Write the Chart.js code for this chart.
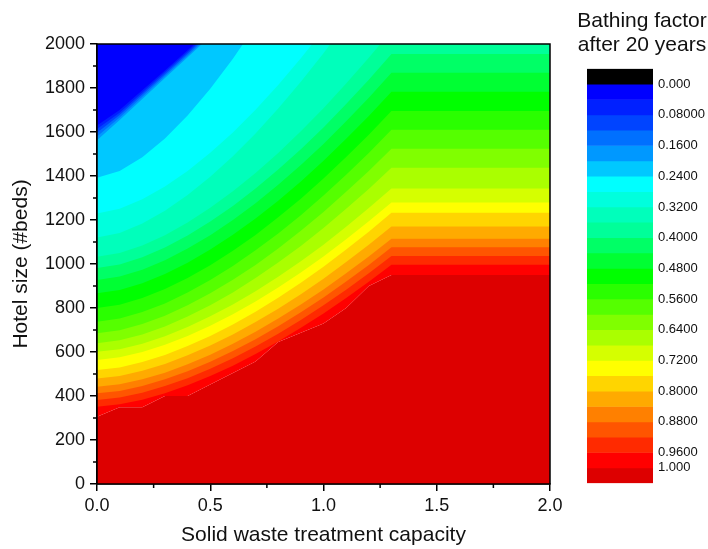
<!DOCTYPE html>
<html lang="en">
<head>
<meta charset="UTF-8">
<title>Bathing factor after 20 years</title>
<script src="https://cdn.jsdelivr.net/npm/chart.js"></script>
<style>
    body { margin: 0; background: #fff; }
    .wrap { position: relative; width: 708px; height: 549px; overflow: hidden; }
    #contour { position: absolute; left: 0; top: 0; }
    #colorbar { position: absolute; left: 580px; top: 56px; }
    .cb-title {
        position: absolute; left: 572px; width: 140px; top: 8px;
        text-align: center; color: #111; line-height: 28px;
        font: 21px "Liberation Sans", Arial, sans-serif;
    }
</style>
</head>
<body>
<div class="wrap">
    <canvas id="contour" width="708" height="549"></canvas>
    <div class="cb-title">Bathing factor<br>after 20 years</div>
    <canvas id="colorbar" width="128" height="440"></canvas>
</div>

<script>
// x positions (solid waste treatment capacity) where each contour boundary is read
const xGrid = [0, 0.1, 0.2, 0.3, 0.4, 0.5, 0.6, 0.7, 0.8, 0.9, 1.0, 1.1, 1.2, 1.3, 2.0];

// hotel size (#beds) of each contour boundary at the xGrid positions
const c004 = [1630, 1700, 1790, 1880, 1972, 2065, 2160, 2255, 2350, 2445, 2540, 2635, 2730, 2825, 2825];
const c008 = [1614, 1688, 1780, 1872, 1964, 2058, 2153, 2248, 2343, 2438, 2533, 2628, 2723, 2818, 2818];
const c012 = [1597, 1677, 1770, 1863, 1956, 2051, 2146, 2241, 2336, 2431, 2526, 2621, 2716, 2811, 2811];
const c016 = [1580, 1666, 1760, 1854, 1948, 2043, 2138, 2233, 2328, 2423, 2518, 2613, 2708, 2803, 2803];
const c020 = [1563, 1655, 1750, 1845, 1940, 2035, 2130, 2225, 2320, 2415, 2510, 2605, 2700, 2795, 2795];
const c024 = [1392, 1423, 1485, 1570, 1675, 1797, 1933, 2084, 2250, 2427, 2617, 2820, 3033, 3257, 3257];
const c028 = [1230, 1251, 1294, 1352, 1423, 1506, 1598, 1701, 1814, 1935, 2064, 2203, 2348, 2500, 2500];
const c032 = [1120, 1141, 1184, 1242, 1314, 1397, 1490, 1593, 1707, 1828, 1958, 2097, 2242, 2395, 2395];
const c036 = [1033, 1050, 1084, 1131, 1189, 1256, 1331, 1414, 1505, 1603, 1708, 1820, 1937, 2060, 2060];
const c040 = [982, 998, 1031, 1075, 1130, 1193, 1264, 1343, 1430, 1522, 1621, 1727, 1838, 1955, 1955];
const c044 = [927, 943, 974, 1017, 1070, 1131, 1200, 1276, 1360, 1450, 1546, 1649, 1756, 1869, 1869];
const c048 = [867, 882, 913, 955, 1006, 1066, 1133, 1207, 1288, 1375, 1469, 1569, 1673, 1783, 1783];
const c052 = [800, 815, 845, 886, 936, 994, 1060, 1132, 1212, 1297, 1389, 1486, 1588, 1696, 1696];
const c056 = [738, 752, 782, 821, 871, 927, 991, 1062, 1139, 1222, 1311, 1406, 1505, 1610, 1610];
const c060 = [685, 699, 727, 765, 813, 867, 928, 996, 1071, 1151, 1236, 1328, 1423, 1524, 1524];
const c064 = [640, 653, 680, 716, 761, 813, 871, 936, 1007, 1082, 1164, 1251, 1341, 1437, 1437];
const c068 = [601, 613, 638, 672, 714, 762, 816, 876, 942, 1013, 1088, 1169, 1254, 1343, 1343];
const c072 = [564, 576, 600, 633, 673, 719, 772, 830, 893, 961, 1034, 1112, 1194, 1280, 1280];
const c076 = [518, 530, 554, 586, 627, 673, 725, 783, 847, 915, 988, 1066, 1147, 1233, 1233];
const c080 = [480, 491, 515, 546, 585, 630, 680, 736, 797, 863, 933, 1009, 1087, 1170, 1170];
const c084 = [442, 453, 476, 506, 544, 588, 637, 692, 752, 816, 884, 958, 1034, 1115, 1115];
const c088 = [412, 423, 445, 476, 513, 556, 605, 658, 717, 781, 848, 921, 996, 1076, 1076];
const c092 = [382, 393, 415, 445, 481, 524, 572, 625, 683, 745, 812, 883, 958, 1036, 1036];
const c096 = [351, 362, 383, 413, 449, 491, 538, 591, 648, 710, 775, 846, 919, 997, 997];
const c100 = [306, 349, 349, 400, 400, 452, 504, 557, 645, 687, 729, 800, 900, 950, 950];

const contourLevels = [0.04, 0.08, 0.12, 0.16, 0.20, 0.24, 0.28, 0.32, 0.36, 0.40, 0.44, 0.48, 0.52,
                       0.56, 0.60, 0.64, 0.68, 0.72, 0.76, 0.80, 0.84, 0.88, 0.92, 0.96, 1.00];
const boundaries = [c004, c008, c012, c016, c020, c024, c028, c032, c036, c040, c044, c048, c052,
                    c056, c060, c064, c068, c072, c076, c080, c084, c088, c092, c096, c100];

// colour of each band, from below 0.000 (black) to above 1.000 (dark red)
const bandEdges = [-0.04, 0, 0.04, 0.08, 0.12, 0.16, 0.20, 0.24, 0.28, 0.32, 0.36, 0.40, 0.44, 0.48,
                   0.52, 0.56, 0.60, 0.64, 0.68, 0.72, 0.76, 0.80, 0.84, 0.88, 0.92, 0.96, 1.00, 1.04];
const bandColors = ['#000000', '#0000FF', '#0020FF', '#0044FF', '#0070FF', '#0098FF', '#00C8FF',
                    '#00FFFF', '#00FFDD', '#00FFBB', '#00FF99', '#00FF66', '#00FF33', '#00FF00',
                    '#2AFF00', '#55FF00', '#80FF00', '#AAFF00', '#D5FF00', '#FFFF00', '#FFD500',
                    '#FFAA00', '#FF8000', '#FF5500', '#FF2A00', '#FF0000', '#DD0000'];

const cbTickValues = [0, 0.08, 0.16, 0.24, 0.32, 0.40, 0.48, 0.56, 0.64, 0.72, 0.80, 0.88, 0.96, 1.00];
const cbTickLabels = ['0.000', '0.08000', '0.1600', '0.2400', '0.3200', '0.4000', '0.4800',
                      '0.5600', '0.6400', '0.7200', '0.8000', '0.8800', '0.9600', '1.000'];

const xMinor = [0.25, 0.75, 1.25, 1.75];
const yMinor = [100, 300, 500, 700, 900, 1100, 1300, 1500, 1700, 1900];

Chart.defaults.font.family = '"Liberation Sans", Arial, sans-serif';
Chart.defaults.color = '#111';

function toPoints(ys) {
    return ys.map((y, i) => ({ x: xGrid[i], y: y }));
}

// each boundary fills everything above it with the band lying above it;
// lower boundaries are drawn first so the upper ones cover them
const contourSets = boundaries.map((ys, k) => ({
    label: contourLevels[k].toFixed(2),
    data: toPoints(ys),
    fill: 'end',
    backgroundColor: bandColors[k + 1],
    borderWidth: 0,
    pointRadius: 0,
    order: k
}));
contourSets.push({
    label: '> 1.00',
    data: toPoints(c100),
    fill: 'start',
    backgroundColor: bandColors[bandColors.length - 1],
    borderWidth: 0,
    pointRadius: 0,
    order: 100
});

const axisExtras = {
    id: 'axisExtras',
    afterDraw(chart) {
        const { ctx, chartArea, scales: { x, y } } = chart;
        ctx.save();
        ctx.strokeStyle = '#000';
        ctx.lineWidth = 1.5;
        ctx.beginPath();
        xMinor.forEach(v => {
            const px = x.getPixelForValue(v);
            ctx.moveTo(px, chartArea.bottom);
            ctx.lineTo(px, chartArea.bottom + 4);
        });
        yMinor.forEach(v => {
            const py = y.getPixelForValue(v);
            ctx.moveTo(chartArea.left, py);
            ctx.lineTo(chartArea.left - 4, py);
        });
        ctx.stroke();
        ctx.strokeRect(chartArea.left, chartArea.top,
            chartArea.right - chartArea.left, chartArea.bottom - chartArea.top);
        ctx.restore();
    }
};

new Chart(document.getElementById('contour'), {
    type: 'line',
    data: { datasets: contourSets },
    options: {
        responsive: false,
        animation: false,
        devicePixelRatio: 1,
        layout: { padding: { left: 0, top: 44, right: 158, bottom: 0 } },
        plugins: { legend: { display: false }, tooltip: { enabled: false } },
        elements: { line: { tension: 0 } },
        scales: {
            x: {
                type: 'linear', min: 0, max: 2,
                afterFit: s => { s.height = 65; },
                ticks: { stepSize: 0.5, padding: 4, font: { size: 18 }, callback: v => v.toFixed(1) },
                grid: { drawOnChartArea: false, tickLength: 7, color: '#000', lineWidth: 1.5 },
                border: { color: '#000', width: 1.5 },
                title: { display: true, text: 'Solid waste treatment capacity', font: { size: 21 },
                         padding: { top: 0, bottom: 1 } }
            },
            y: {
                type: 'linear', min: 0, max: 2000,
                afterFit: s => { s.width = 97; },
                ticks: { stepSize: 200, padding: 5, font: { size: 18 }, callback: v => String(v) },
                grid: { drawOnChartArea: false, tickLength: 7, color: '#000', lineWidth: 1.5 },
                border: { color: '#000', width: 1.5 },
                title: { display: true, text: 'Hotel size (#beds)', font: { size: 21 },
                         padding: { top: 9, bottom: 0 } }
            }
        }
    },
    plugins: [axisExtras]
});

// colour scale legend
new Chart(document.getElementById('colorbar'), {
    type: 'bar',
    data: {
        labels: [''],
        datasets: bandColors.map((c, i) => ({
            data: [[bandEdges[i], bandEdges[i + 1]]],
            backgroundColor: c,
            borderWidth: 0,
            grouped: false,
            barPercentage: 1,
            categoryPercentage: 1
        }))
    },
    options: {
        responsive: false,
        animation: false,
        devicePixelRatio: 1,
        layout: { padding: { left: 7, top: 10, right: 0, bottom: 10 } },
        plugins: { legend: { display: false }, tooltip: { enabled: false } },
        scales: {
            x: { display: false },
            y: {
                position: 'right', reverse: true, min: -0.04, max: 1.04,
                afterFit: s => { s.width = 55; },
                afterBuildTicks: s => { s.ticks = cbTickValues.map(v => ({ value: v })); },
                ticks: { padding: 5, font: { size: 13 }, callback: (v, i) => cbTickLabels[i] },
                grid: { display: false, drawTicks: false },
                border: { display: false }
            }
        }
    }
});
</script>
</body>
</html>
